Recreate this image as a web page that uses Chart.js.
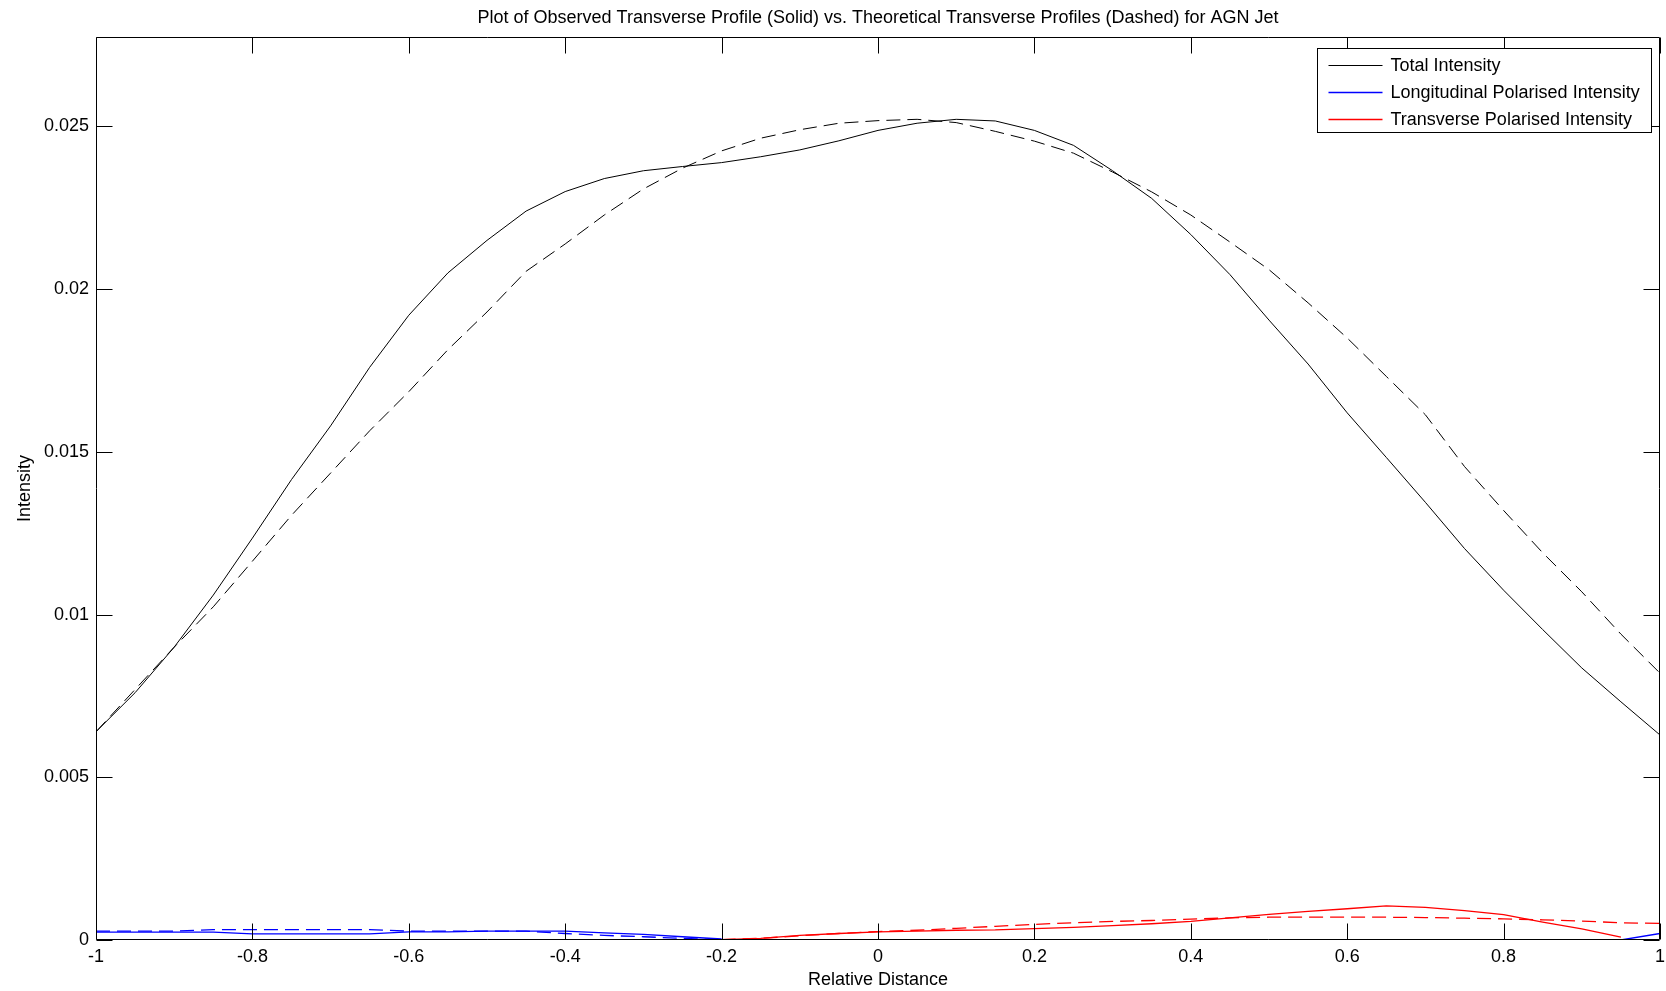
<!DOCTYPE html>
<html><head><meta charset="utf-8">
<script src="https://cdn.jsdelivr.net/npm/chart.js@4.4.0/dist/chart.umd.min.js"></script>
<style>html,body{margin:0;padding:0;background:#fff;} #wrap{width:1666px;height:991px;}</style>
</head><body><div id="wrap"><canvas id="c" width="1666" height="991"></canvas></div>
<script>
const relativeDistance = [-1, -0.95, -0.9, -0.85, -0.8, -0.75, -0.7, -0.65, -0.6, -0.55, -0.5, -0.45, -0.4, -0.35, -0.3, -0.25, -0.2, -0.15, -0.1, -0.05, 0, 0.05, 0.1, 0.15, 0.2, 0.25, 0.3, 0.35, 0.4, 0.45, 0.5, 0.55, 0.6, 0.65, 0.7, 0.75, 0.8, 0.85, 0.9, 0.95, 1];

const totalObserved = [0.0064, 0.0076, 0.0090, 0.0106, 0.01235, 0.01415, 0.0158, 0.0176, 0.0192, 0.0205, 0.0215, 0.0224, 0.0230, 0.0234, 0.02364, 0.02377, 0.02389, 0.02407, 0.02428, 0.02456, 0.02488, 0.0251, 0.02522, 0.02517, 0.02488, 0.02442, 0.02364, 0.02279, 0.02168, 0.02045, 0.01905, 0.0177, 0.0162, 0.01483, 0.01345, 0.01203, 0.01075, 0.00954, 0.00836, 0.00732, 0.0063];
const totalTheory = [0.0064, 0.0077, 0.0090, 0.01024, 0.01164, 0.01305, 0.01435, 0.01565, 0.01685, 0.01814, 0.0193, 0.02055, 0.02139, 0.02228, 0.02308, 0.02372, 0.02425, 0.02464, 0.0249, 0.0251, 0.02518, 0.02522, 0.02512, 0.02485, 0.02455, 0.02418, 0.0236, 0.02299, 0.02228, 0.02145, 0.0206, 0.01958, 0.0185, 0.01732, 0.01614, 0.01455, 0.0132, 0.0119, 0.0107, 0.0094, 0.0082];

const longObserved = [0.00024, 0.00024, 0.00024, 0.00024, 0.00019, 0.00019, 0.00019, 0.00019, 0.00025, 0.00025, 0.00027, 0.00027, 0.00027, 0.00022, 0.00017, 0.00010, 0.00003, null, null, null, null, null, null, null, null, null, null, null, null, null, null, null, null, null, null, null, null, null, null, 0.0, 0.0002];
const longTheory = [0.00027, 0.00027, 0.00027, 0.00032, 0.00032, 0.00032, 0.00032, 0.00032, 0.00027, 0.00027, 0.00027, 0.00027, 0.00020, 0.00014, 0.00010, 0.00005, 0.00001, null, null, null, null, null, null, null, null, null, null, null, null, null, null, null, null, null, null, null, null, null, null, null, null];

const transObserved = [null, null, null, null, null, null, null, null, null, null, null, null, null, null, null, null, 0.00001, 0.00005, 0.00014, 0.0002, 0.00025, 0.00027, 0.0003, 0.00031, 0.00035, 0.00039, 0.00044, 0.0005, 0.00057, 0.00068, 0.00079, 0.00088, 0.00096, 0.00105, 0.001, 0.0009, 0.00078, 0.00055, 0.00034, 0.00009, null];
const transTheory = [null, null, null, null, null, null, null, null, null, null, null, null, null, null, null, null, 0.00001, 0.00005, 0.00013, 0.0002, 0.00026, 0.0003, 0.00036, 0.00042, 0.00048, 0.00053, 0.00057, 0.0006, 0.00064, 0.00068, 0.0007, 0.0007, 0.0007, 0.0007, 0.00069, 0.00067, 0.00065, 0.00062, 0.00058, 0.00053, 0.00051];

const xTickValues = [-1, -0.8, -0.6, -0.4, -0.2, 0, 0.2, 0.4, 0.6, 0.8, 1];
const xTickLabels = ['-1', '-0.8', '-0.6', '-0.4', '-0.2', '0', '0.2', '0.4', '0.6', '0.8', '1'];
const yTickValues = [0, 0.005, 0.01, 0.015, 0.02, 0.025];
const yTickLabels = ['0', '0.005', '0.01', '0.015', '0.02', '0.025'];
const yMax = 0.02775;

const legendLabels = ['Total Intensity', 'Longitudinal Polarised Intensity', 'Transverse Polarised Intensity'];
const seriesColors = ['#000000', '#0000ff', '#ff0000'];
const chartTitle = 'Plot of Observed Transverse Profile (Solid) vs. Theoretical Transverse Profiles (Dashed) for AGN Jet';

const FONT = '"Liberation Sans", Arial, Helvetica, sans-serif';
Chart.defaults.font.family = FONT;
Chart.defaults.font.size = 18;
Chart.defaults.color = '#000';

function pts(arr) { return relativeDistance.map((x, i) => ({ x: x, y: arr[i] })); }
const DASH = [14, 7];

function ds(label, arr, color, dashed, order, width) {
  return { label: label, data: pts(arr), borderColor: color, backgroundColor: color,
    borderWidth: width, borderDash: dashed ? DASH : [], pointRadius: 0, fill: false,
    tension: 0, spanGaps: false, order: order };
}

const axesPlugin = {
  id: 'matlabAxes',
  afterDatasetsDraw(chart) {
    const { ctx, chartArea: a, scales: { x, y } } = chart;
    const L = Math.round(a.left) + 0.5, R = Math.round(a.right) - 0.5;
    const T = Math.round(a.top) + 0.5, B = Math.round(a.bottom) - 0.5;
    const tl = 16;
    ctx.save();
    ctx.strokeStyle = '#000'; ctx.lineWidth = 1; ctx.setLineDash([]);
    ctx.beginPath();
    ctx.rect(L, T, R - L, B - T);
    xTickValues.forEach(v => {
      const px = Math.round(x.getPixelForValue(v)) + 0.5;
      ctx.moveTo(px, B); ctx.lineTo(px, B - tl);
      ctx.moveTo(px, T); ctx.lineTo(px, T + tl);
    });
    yTickValues.forEach(v => {
      const py = Math.round(y.getPixelForValue(v)) + 0.5;
      ctx.moveTo(L, py); ctx.lineTo(L + tl, py);
      ctx.moveTo(R, py); ctx.lineTo(R - tl, py);
    });
    ctx.stroke();
    ctx.restore();
  }
};

const legendPlugin = {
  id: 'matlabLegend',
  afterDraw(chart) {
    const { ctx, chartArea: a } = chart;
    const w = 334, h = 84;
    const bx = Math.round(a.right) - 9 - w + 0.5, by = Math.round(a.top) + 11 + 0.5;
    ctx.save();
    ctx.fillStyle = '#fff';
    ctx.fillRect(bx, by, w, h);
    ctx.strokeStyle = '#000'; ctx.lineWidth = 1; ctx.setLineDash([]);
    ctx.strokeRect(bx, by, w, h);
    const rows = [16, 43.5, 70.5];
    ctx.font = '18px ' + FONT;
    ctx.textBaseline = 'middle'; ctx.textAlign = 'left';
    legendLabels.forEach((lab, i) => {
      const yy = Math.round(by + rows[i]) + 0.5;
      ctx.strokeStyle = seriesColors[i];
      ctx.lineWidth = i === 0 ? 1 : 1.3;
      ctx.beginPath(); ctx.moveTo(bx + 11, yy); ctx.lineTo(bx + 65, yy); ctx.stroke();
      ctx.fillStyle = '#000';
      ctx.fillText(lab, bx + 73, yy + 1);
    });
    ctx.restore();
  }
};

new Chart(document.getElementById('c').getContext('2d'), {
  type: 'line',
  data: {
    datasets: [
      ds(legendLabels[0], totalObserved, seriesColors[0], false, 3, 1),
      ds(legendLabels[0] + ' (theory)', totalTheory, seriesColors[0], true, 3, 1),
      ds(legendLabels[1], longObserved, seriesColors[1], false, 2, 1.3),
      ds(legendLabels[1] + ' (theory)', longTheory, seriesColors[1], true, 2, 1.3),
      ds(legendLabels[2], transObserved, seriesColors[2], false, 1, 1.3),
      ds(legendLabels[2] + ' (theory)', transTheory, seriesColors[2], true, 1, 1.3)
    ]
  },
  options: {
    responsive: false, animation: false, devicePixelRatio: 1,
    layout: { padding: { left: 0, right: 0, top: 0, bottom: 0 } },
    plugins: {
      legend: { display: false }, tooltip: { enabled: false },
      title: { display: true, fullSize: false, text: chartTitle, color: '#000',
        font: { size: 18, weight: 'normal' }, padding: { top: 7.2, bottom: 8.2 } }
    },
    scales: {
      x: {
        type: 'linear', min: -1, max: 1,
        grid: { display: false, drawTicks: false }, border: { display: false },
        afterBuildTicks: s => { s.ticks = xTickValues.map(v => ({ value: v })); },
        afterFit: s => { s.height = 51; s.paddingRight = 6; s.paddingLeft = 0; },
        ticks: { padding: 6, maxRotation: 0, autoSkip: false, color: '#000',
          callback: v => xTickLabels[xTickValues.indexOf(v)] },
        title: { display: true, text: 'Relative Distance', color: '#000', padding: { top: 0, bottom: 0 } }
      },
      y: {
        type: 'linear', min: 0, max: yMax,
        grid: { display: false, drawTicks: false }, border: { display: false },
        afterBuildTicks: s => { s.ticks = yTickValues.map(v => ({ value: v })); },
        afterFit: s => { s.width = 96; },
        ticks: { padding: 7, autoSkip: false, color: '#000',
          callback: v => yTickLabels[yTickValues.indexOf(v)] },
        title: { display: true, text: 'Intensity', color: '#000', padding: { top: 14, bottom: 0 } }
      }
    }
  },
  plugins: [axesPlugin, legendPlugin]
});
</script>
</body></html>
